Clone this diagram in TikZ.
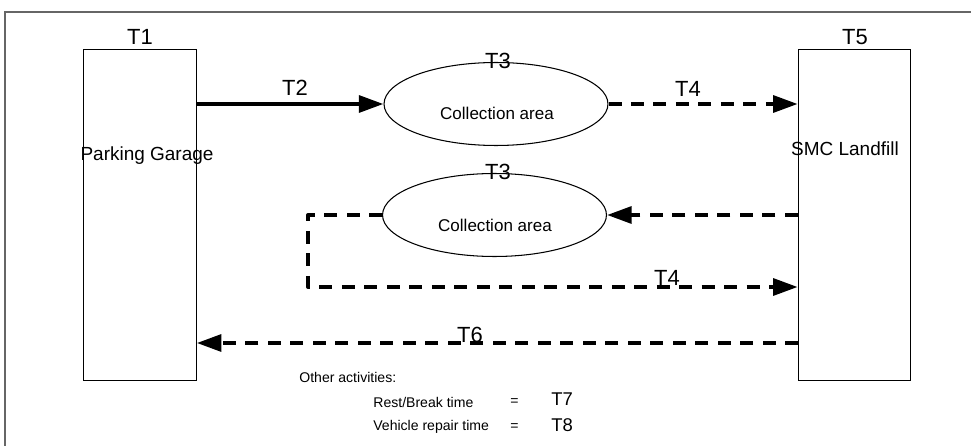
\documentclass[tikz,border=0pt]{standalone}
\usepackage{fontspec}
\setmainfont{Liberation Sans}
\usepackage{tikz}
\usetikzlibrary{arrows.meta}
\usetikzlibrary{shapes.geometric}
\usetikzlibrary{positioning}
\begin{document}
\begin{tikzpicture}[x=0.02cm,y=-0.02cm,>={Triangle[length=14pt,width=9.5pt]},
    box node/.style={rectangle,draw,line width=0.6pt,minimum width=2.25cm,minimum height=6.64cm},
    area node/.style={ellipse,draw,line width=0.6pt,minimum width=4.48cm,minimum height=1.66cm},
    big label/.style={font=\fontsize{12.5}{14}\selectfont,inner sep=0pt},
    box label/.style={font=\fontsize{10.8}{13}\selectfont,inner sep=0pt},
    small label/.style={font=\fontsize{9.7}{12}\selectfont,inner sep=0pt},
    note label/.style={font=\fontsize{8}{10}\selectfont,inner sep=0pt,anchor=west},
    flow/.style={->,line width=2.3pt},
    dashflow/.style={->,line width=2.3pt,dash pattern=on 7.4pt off 5.4pt,line join=round}]
   \useasboundingbox (0,0) rectangle (971,446);
   % frame
   \draw[line width=0.9pt,color=black!60] (5,446) -- (5,12) -- (971,12);
   \begin{scope}
      \node[box node] (garage) at (140,215) {};
      \node[box node] (landfill) at (854.5,215) {};
      \node[area node] (coll1) at (496,104) {};
      \node[area node] (coll2) at (494.5,215) {};
      \node[box label] (garagetxt) at (147,156) {Parking Garage};
      \node[box label] (landfilltxt) at (845,149) {SMC Landfill};
      \node[small label] (colltxt1) at (497,113) {Collection area};
      \node[small label] (colltxt2) at (495,225) {Collection area};
      \node[big label] (t1) at (140,37) {T1};
      \node[big label] (t5) at (855,37) {T5};
      \node[big label] (t3a) at (498,61) {T3};
      \node[big label] (t3b) at (498,172) {T3};
      \node[big label] (t2) at (295,88) {T2};
      \node[big label] (t4a) at (688,89) {T4};
      \node[big label] (t4b) at (667,278) {T4};
      \node[big label] (t6) at (470,335) {T6};
      \coordinate (bend1) at (308,215);
      \coordinate (bend2) at (308,287);
      \coordinate (back) at (798,343);
       \draw[flow] (garage.east |- coll1.west) -- (coll1.west);
       \draw[dashflow] (coll1.east) -- (coll1.east -| landfill.west);
       \draw[dashflow] (landfill.west |- coll2.east) -- (coll2.east);
       \draw[dashflow] (coll2.west) -- (bend1) -- (bend2) -- (bend2 -| landfill.west);
       \draw[dashflow] (back) -- (back -| garage.east);
      % other activities
      \node[note label] (other) at (299,377) {Other activities:};
      \node[note label] (rest) at (373,402) {Rest/Break time};
      \node[note label] (repair) at (373,427) {Vehicle repair time};
      \node[note label] (eqa) at (510,402) {=};
      \node[note label] (eqb) at (510,427) {=};
      \node[big label,anchor=west,font=\fontsize{10.5}{12}\selectfont] (t7) at (551,399) {T7};
      \node[big label,anchor=west,font=\fontsize{10.5}{12}\selectfont] (t8) at (551,425) {T8};
    \end{scope}
  \end{tikzpicture}
\end{document}
